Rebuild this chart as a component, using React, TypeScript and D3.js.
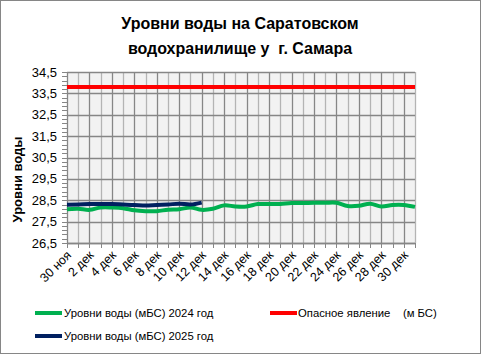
import React from "react";
import * as d3 from "d3";

const categories: string[] = [
  "30 ноя",
  ...Array.from({ length: 31 }, (_, i) => `${i + 1} дек`),
];

const levels2024: number[] = [
  28.08, 28.1, 28.05, 28.16, 28.16, 28.13, 28.03, 27.99, 27.99, 28.06, 28.08,
  28.16, 28.05, 28.1, 28.26, 28.21, 28.21, 28.32, 28.32, 28.33, 28.37, 28.37,
  28.38, 28.38, 28.38, 28.23, 28.24, 28.34, 28.21, 28.28, 28.28, 28.19,
];

const levels2025: number[] = [
  28.29, 28.3, 28.32, 28.32, 28.32, 28.3, 28.28, 28.25, 28.28, 28.3, 28.34,
  28.3, 28.39,
];

const dangerLevel = 33.8;

const yTicks: number[] = [26.5, 27.5, 28.5, 29.5, 30.5, 31.5, 32.5, 33.5, 34.5];

const titleLines = ["Уровни воды на Саратовском", "водохранилище у  г. Самара"];
const yAxisTitle = "Уровни воды";
const legend2024 = "Уровни воды (мБС) 2024 год";
const legend2025 = "Уровни воды (мБС) 2025 год";
const legendDanger = "Опасное явление    (м БС)";

const W = 481;
const H = 354;
const L = 67;
const R = 415;
const T = 72;
const B = 243;

const GREEN = "#00b050";
const NAVY = "#002060";
const RED = "#ff0000";
const FONT = "'Liberation Sans', Arial, sans-serif";

export default function App() {
  const x = d3.scalePoint<string>().domain(categories).range([L, R]);
  const y = d3.scaleLinear().domain([26.5, 34.5]).range([B, T]);

  const line = d3
    .line<number>()
    .x((_, i) => x(categories[i]) as number)
    .y((d) => y(d))
    .curve(d3.curveCatmullRom.alpha(0.5));

  const minorTicks = d3.range(0, 41).map((k) => 26.5 + k * 0.2);

  return (
    <svg
      width={W}
      height={H}
      style={{ position: "absolute", left: 0, top: 0 }}
      fontFamily={FONT}
    >
      <rect x={0} y={0} width={W} height={H} fill="#fff" />
      <rect x={0.5} y={0.5} width={W - 1} height={H - 1} fill="none" stroke="#868686" />

      {titleLines.map((t, i) => (
        <text
          key={i}
          x={240}
          y={29 + i * 25}
          textAnchor="middle"
          fontSize={16}
          fontWeight="bold"
          fill="#000"
          style={{ whiteSpace: "pre" }}
        >
          {t}
        </text>
      ))}

      <rect x={L} y={T} width={R - L} height={B - T} fill="#f2f2f2" />

      {categories.map((c, i) =>
        i === 0 ? null : (
          <line
            key={"vg" + i}
            x1={Math.round(x(c) as number) + 0.5}
            x2={Math.round(x(c) as number) + 0.5}
            y1={T}
            y2={B}
            stroke={i % 2 === 0 ? "#868686" : "#b4b4b4"}
            strokeWidth={1.3}
          />
        )
      )}
      {yTicks.map((v) => (
        <line
          key={"hg" + v}
          x1={L}
          x2={R}
          y1={Math.round(y(v)) + 0.5}
          y2={Math.round(y(v)) + 0.5}
          stroke="#868686"
          strokeWidth={1.3}
        />
      ))}

      {minorTicks.map((v, i) => (
        <line
          key={"yt" + i}
          x1={L - 5}
          x2={L}
          y1={Math.round(y(v)) + 0.5}
          y2={Math.round(y(v)) + 0.5}
          stroke="#868686"
        />
      ))}
      <line x1={L + 0.5} x2={L + 0.5} y1={T} y2={B} stroke="#868686" strokeWidth={1.3} />
      <line x1={L} x2={R} y1={B + 0.5} y2={B + 0.5} stroke="#868686" strokeWidth={1.3} />
      {categories.map((c, i) => (
        <line
          key={"xt" + i}
          x1={Math.round(x(c) as number) + 0.5}
          x2={Math.round(x(c) as number) + 0.5}
          y1={B}
          y2={B + 5}
          stroke="#868686"
        />
      ))}

      {yTicks.map((v) => (
        <text
          key={"yl" + v}
          x={57}
          y={y(v) + 4.5}
          textAnchor="end"
          fontSize={13}
          fill="#000"
        >
          {v.toFixed(1).replace(".", ",")}
        </text>
      ))}

      {categories.map((c, i) =>
        i % 2 === 0 ? (
          <text
            key={"xl" + i}
            transform={`translate(${(x(c) as number) + 5},${B + 13}) rotate(-45)`}
            textAnchor="end"
            fontSize={12.5}
            fill="#000"
          >
            {c}
          </text>
        ) : null
      )}

      <text
        transform={`translate(22,${(T + B) / 2 + 22}) rotate(-90)`}
        textAnchor="middle"
        fontSize={13}
        fontWeight="bold"
        fill="#000"
      >
        {yAxisTitle}
      </text>

      <line x1={L} x2={R} y1={y(dangerLevel)} y2={y(dangerLevel)} stroke={RED} strokeWidth={4} />
      <path d={line(levels2024) || ""} fill="none" stroke={GREEN} strokeWidth={4} strokeLinejoin="round" />
      <path d={line(levels2025) || ""} fill="none" stroke={NAVY} strokeWidth={4} strokeLinejoin="round" />

      <line x1={35} x2={62} y1={313} y2={313} stroke={GREEN} strokeWidth={4} />
      <text x={64} y={317} fontSize={11.3} fill="#000">{legend2024}</text>
      <line x1={270} x2={297} y1={313} y2={313} stroke={RED} strokeWidth={4} />
      <text x={298} y={317} fontSize={11.3} fill="#000" style={{ whiteSpace: "pre" }}>{legendDanger}</text>
      <line x1={35} x2={62} y1={336} y2={336} stroke={NAVY} strokeWidth={4} />
      <text x={64} y={340} fontSize={11.3} fill="#000">{legend2025}</text>
    </svg>
  );
}
